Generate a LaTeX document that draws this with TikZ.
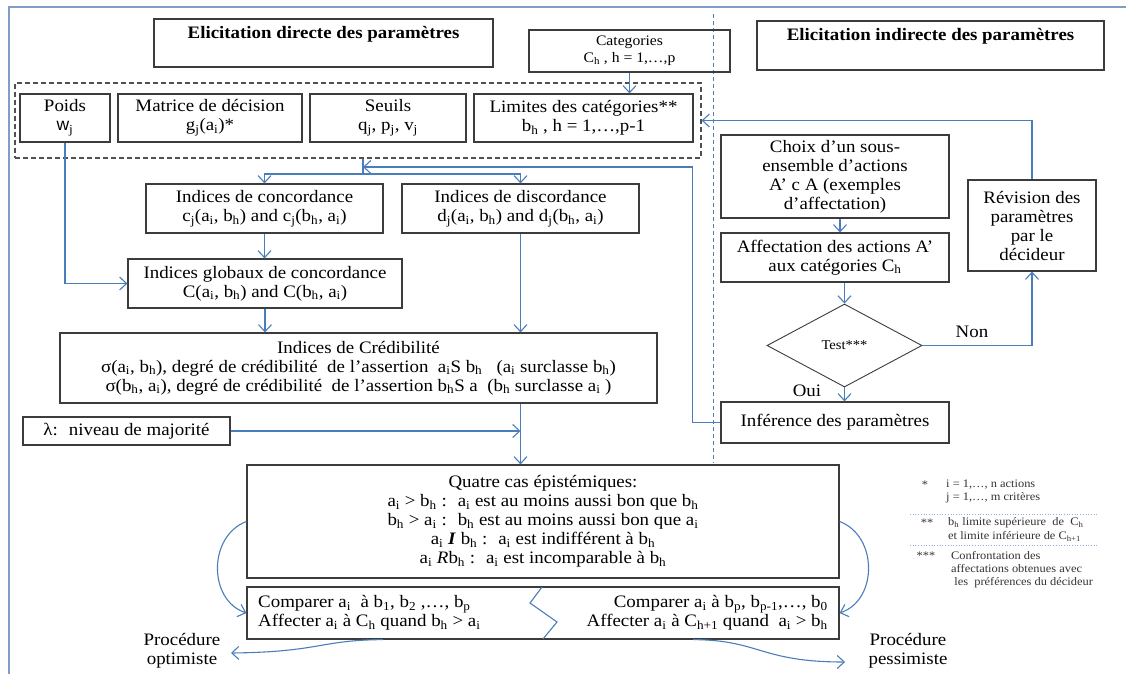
\documentclass[tikz,border=0pt]{standalone}
\usepackage{fontspec}
\setmainfont{Liberation Serif}[FakeStretch=1.08]
\setsansfont{Liberation Sans}
\usetikzlibrary{arrows.meta,shapes.geometric,calc}
\definecolor{cblue}{HTML}{4A7EBB}
\definecolor{fblue}{HTML}{7F9DC9}
\definecolor{boxc}{HTML}{3C3C3C}
\newcommand{\sbs}[1]{\textsubscript{#1}}
\newcommand{\mainsz}{\fontsize{17.5}{19}\selectfont}
\newcommand{\catsz}{\fontsize{14.5}{17}\selectfont}
\newcommand{\legsz}{\fontsize{11.5}{13.3}\selectfont}
\tikzset{
  box/.style={draw=boxc, line width=1.2pt, align=center, inner sep=0pt, font=\mainsz},
  grpbox/.style={draw=boxc!90, dash pattern=on 5pt off 3pt, line width=1.2pt, inner sep=0pt},
  titlelab/.style={font=\mainsz\bfseries, inner sep=0pt},
  conn/.style={draw=cblue, line width=1.1pt},
  arr/.style={conn, -{Straight Barb[length=7pt,width=13pt,line width=1.1pt]}},
  plain/.style={font=\mainsz, inner sep=0pt, align=center},
  leg/.style={font=\legsz, text=black!80, inner sep=0pt, align=left},
}
\begin{document}
\begin{tikzpicture}[x=1pt,y=-1pt]
\useasboundingbox (0,0) rectangle (1126,674);
\fill[white] (0,0) rectangle (1126,674);
% frame and separator
\draw[fblue, line width=1.1pt] (9,674) -- (9,7) -- (1126,7);
\draw[cblue, dash pattern=on 4pt off 3pt, line width=1pt] (713,14) -- (713,463);

% titles
\node[box, minimum width=339, minimum height=48] (dir) at (323.5,43) {};
\node[titlelab] (dirT) at (323.5,34) {Elicitation directe des paramètres};
\node[box, font=\catsz, minimum width=201, minimum height=42] (cat) at (629.5,51) {Categories\\C\sbs{h} , h = 1,…,p};
\node[box, minimum width=347, minimum height=49] (ind) at (930.5,45.5) {};
\node[titlelab] (indT) at (930.5,36) {Elicitation indirecte des paramètres};

% group of inputs
\node[grpbox, minimum width=686, minimum height=75] (grp) at (358,120.5) {};
\node[box, minimum width=90, minimum height=48] (poids) at (65,118) {Poids\\{\sffamily w}\sbs{j}};
\node[box, minimum width=184, minimum height=48] (mat) at (210,118) {Matrice de décision\\g\sbs{j}(a\sbs{i})*};
\node[box, minimum width=156, minimum height=48] (seu) at (388,118) {Seuils\\q\sbs{j}, p\sbs{j}, v\sbs{j}};
\node[box, minimum width=219, minimum height=48] (lim) at (583.5,118) {Limites des catégories**\\b\sbs{h} , h = 1,…,p-1};

% left chain
\node[box, minimum width=237, minimum height=49] (conc) at (264.5,208.5) {Indices de concordance\\c\sbs{j}(a\sbs{i}, b\sbs{h}) and c\sbs{j}(b\sbs{h}, a\sbs{i})};
\node[box, minimum width=237, minimum height=49] (disc) at (520.5,208.5) {Indices de discordance\\d\sbs{j}(a\sbs{i}, b\sbs{h}) and d\sbs{j}(b\sbs{h}, a\sbs{i})};
\node[box, minimum width=274, minimum height=49] (glob) at (265,283.5) {Indices globaux de concordance\\C(a\sbs{i}, b\sbs{h}) and C(b\sbs{h}, a\sbs{i})};
\node[box, minimum width=597, minimum height=70] (cred) at (358.5,368) {Indices de Crédibilité\\σ(a\sbs{i}, b\sbs{h}), degré de crédibilité~ de l’assertion~ a\sbs{i}S b\sbs{h}~~ (a\sbs{i} surclasse b\sbs{h})\\σ(b\sbs{h}, a\sbs{i}), degré de crédibilité~ de l’assertion b\sbs{h}S a~ (b\sbs{h} surclasse a\sbs{i} )};
\node[box, minimum width=207, minimum height=28] (lam) at (126.5,431) {λ:~ niveau de majorité};
\node[box, minimum width=592, minimum height=113] (quat) at (543,521.5) {Quatre cas épistémiques:\\a\sbs{i} > b\sbs{h} :~ a\sbs{i} est au moins aussi bon que b\sbs{h}\\b\sbs{h} > a\sbs{i} :~ b\sbs{h} est au moins aussi bon que a\sbs{i}\\a\sbs{i} \textbf{\textit{I}} b\sbs{h} :~ a\sbs{i} est indifférent à b\sbs{h}\\a\sbs{i} \textit{R}b\sbs{h} :~ a\sbs{i} est incomparable à b\sbs{h}};
\node[box, minimum width=592, minimum height=52] (comp) at (543,613) {};
\node[plain, anchor=west, align=left] (cmpL) at (258,613) {Comparer a\sbs{i}~ à b\sbs{1}, b\sbs{2} ,…, b\sbs{p}\\Affecter a\sbs{i} à C\sbs{h} quand b\sbs{h} > a\sbs{i}};
\node[plain, anchor=east, align=right] (cmpR) at (828,613) {Comparer a\sbs{i} à b\sbs{p}, b\sbs{p-1},…, b\sbs{0}\\Affecter a\sbs{i} à C\sbs{h+1} quand~ a\sbs{i} > b\sbs{h}};
\draw[conn] (542,587) -- (530,603) -- (557,622) -- (543,639);

% right chain
\node[box, minimum width=228, minimum height=83] (choix) at (835,176.5) {Choix d’un sous-\\ensemble d’actions\\A’ c A (exemples\\d’affectation)};
\node[box, minimum width=128, minimum height=91] (rev) at (1032,225.5) {Révision des\\paramètres\\par le\\décideur};
\node[box, minimum width=228, minimum height=49] (aff) at (835,257.5) {Affectation des actions A’\\aux catégories C\sbs{h}};
\node[draw=boxc, line width=0.9pt, diamond, minimum width=155, minimum height=83, inner sep=0pt, font=\fontsize{13.5}{15}\selectfont] (dia) at (844.5,345.5) {Test***};
\node[box, minimum width=228, minimum height=41] (inf) at (835,422.5) {Inférence des paramètres};
\node[plain] (non) at (972,332) {Non};
\node[plain] (oui) at (807,391) {Oui};

% procedure labels
\node[plain] (opt) at (182,651) {Procédure\\optimiste};
\node[plain] (pes) at (908,651) {Procédure\\pessimiste};
\coordinate (optEnd) at (231,653);
\coordinate (pesEnd) at (845,662);
\coordinate (split) at (363,174);
\coordinate (fbEnd) at (363,167);

% connectors
\draw[arr] (cat.south) -- (cat.south |- lim.north);
\draw[arr] (rev.north) |- (grp.east);
\draw[conn] (grp.south -| split) -- (split);
\draw[arr] (split) -| (conc.north);
\draw[arr] (split) -| (disc.north);
\draw[arr] (inf.west) -- ++(-28,0) |- (fbEnd);
\draw[arr] (poids.south) |- (glob.west);
\draw[arr] (conc.south) -- (conc.south |- glob.north);
\draw[arr] (glob.south) -- (glob.south |- cred.north);
\draw[arr] (disc.south) -- (disc.south |- cred.north);
\draw[arr] (lam.east) -- (lam.east -| disc.south);
\draw[arr] (cred.south -| disc.south) -- (quat.north -| disc.south);
\draw[arr] ([xshift=5pt]choix.south) -- ([xshift=5pt]aff.north);
\draw[arr] (aff.south -| dia.north) -- (dia.north);
\draw[arr] (dia.east) -| (rev.south);
\draw[arr] (dia.south) -- (dia.south |- inf.north);
\draw[arr] (quat.west) .. controls (208,536) and (208,600) .. (comp.west);
\draw[arr] (quat.east) .. controls (878,536) and (878,600) .. (comp.east);
\draw[arr] ([xshift=-160pt]comp.south) .. controls (320,640) and (320,652) .. (optEnd);
\draw[arr] ([xshift=150pt]comp.south) .. controls (760,640) and (760,662) .. (pesEnd);

% legend
\node[leg] (s1) at (925,485) {*};
\node[leg, anchor=west] (l1) at (946,491.5) {i = 1,…, n actions\\j = 1,…, m critères};
\draw[cblue!60, dotted, line width=0.7pt] (910,514) -- (1098,514);
\node[leg] (s2) at (927,523) {**};
\node[leg, anchor=west] (l2) at (948,529.5) {b\sbs{h} limite supérieure~ de~ C\sbs{h}\\et limite inférieure de C\sbs{h+1}};
\draw[cblue!60, dotted, line width=0.7pt] (910,545) -- (1098,545);
\node[leg] (s3) at (926,556) {***};
\node[leg, anchor=west] (l3) at (951,569.5) {Confrontation des\\affectations obtenues avec\\~les~ préférences du décideur};
\end{tikzpicture}
\end{document}
